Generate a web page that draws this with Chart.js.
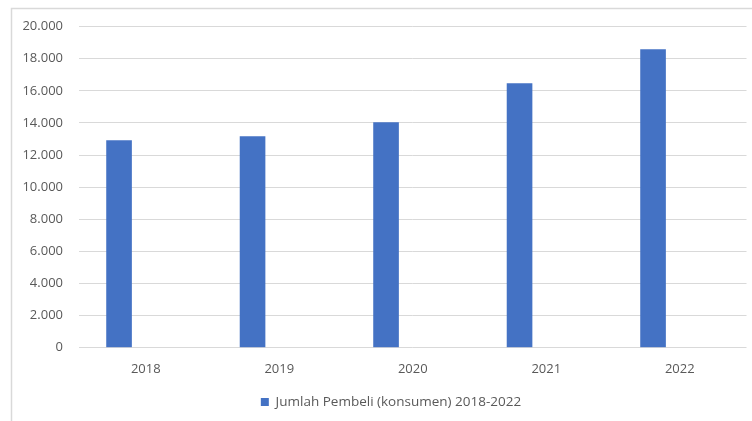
<!DOCTYPE html>
<html>
<head>
<meta charset="utf-8">
<script src="https://cdn.jsdelivr.net/npm/chart.js@4.4.0/dist/chart.umd.min.js"></script>
<style>
  body { margin: 0; background: #fff; overflow: hidden; }
  #wrap { width: 782px; height: 421px; position: relative; }
</style>
</head>
<body>
<div id="wrap"><canvas id="myChart"></canvas></div>
<script>
// data
let tahun = ["2018", "2019", "2020", "2021", "2022"];
let jumlahPembeli = [12930, 13180, 14050, 16470, 18600];
let kosong = [null, null, null, null, null]; // second empty series, like the excel sheet
let judulSeri = "Jumlah Pembeli (konsumen) 2018-2022";

let warnaBatang = "#4472C4";
let warnaTeks = "#595959";
let warnaGaris = "#d9d9d9";

Chart.defaults.font.family = "'Open Sans', sans-serif";
Chart.defaults.font.size = 13;
Chart.defaults.color = warnaTeks;

// frame around the chart, cut off on the right and bottom
const bingkai = {
  id: "bingkai",
  beforeDraw(chart) {
    let ctx = chart.ctx;
    ctx.save();
    ctx.fillStyle = "#fff";
    ctx.fillRect(0, 0, chart.width, chart.height);
    ctx.strokeStyle = warnaGaris;
    ctx.lineWidth = 1.5;
    ctx.strokeRect(11.5, 8.5, 900, 600);
    ctx.restore();
  },
};

function formatTitik(v) {
  return String(v).replace(/\B(?=(\d{3})+(?!\d))/g, ".");
}

const data = {
  labels: tahun,
  datasets: [
    {
      label: judulSeri,
      data: jumlahPembeli,
      backgroundColor: warnaBatang,
      categoryPercentage: 0.8,
      barPercentage: 0.48,
    },
    {
      label: "",
      data: kosong,
      backgroundColor: "#ED7D31",
      categoryPercentage: 0.8,
      barPercentage: 0.48,
    },
  ],
};

const config = {
  type: "bar",
  data: data,
  options: {
    responsive: true,
    maintainAspectRatio: false,
    animation: false,
    layout: {
      padding: { left: 20, right: 20, top: 26.7, bottom: 2.25 },
    },
    plugins: {
      legend: {
        position: "bottom",
        labels: {
          boxWidth: 8,
          boxHeight: 8,
          padding: 4.2,
          color: warnaTeks,
          font: { size: 13.5 },
          filter: (item) => item.datasetIndex === 0,
        },
      },
      tooltip: { enabled: false },
    },
    scales: {
      x: {
        grid: { display: false, drawTicks: false },
        border: { display: false },
        ticks: { padding: 13.9, color: warnaTeks },
      },
      y: {
        min: 0,
        max: 20000,
        ticks: {
          stepSize: 2000,
          padding: 16,
          color: warnaTeks,
          callback: (v) => formatTitik(v),
        },
        grid: { color: warnaGaris, lineWidth: 1, drawTicks: false },
        border: { display: false },
        afterFit: (scale) => {
          scale.width = 59;
        },
      },
      // empty space on the right so the legend sits where excel put it
      kanan: {
        type: "linear",
        position: "right",
        ticks: { display: false },
        grid: { display: false, drawTicks: false },
        border: { display: false },
        afterFit: (scale) => {
          scale.width = 15.5;
        },
      },
    },
  },
  plugins: [bingkai],
};

let context = document.getElementById("myChart").getContext("2d");
let chart = new Chart(context, config);
</script>
</body>
</html>
